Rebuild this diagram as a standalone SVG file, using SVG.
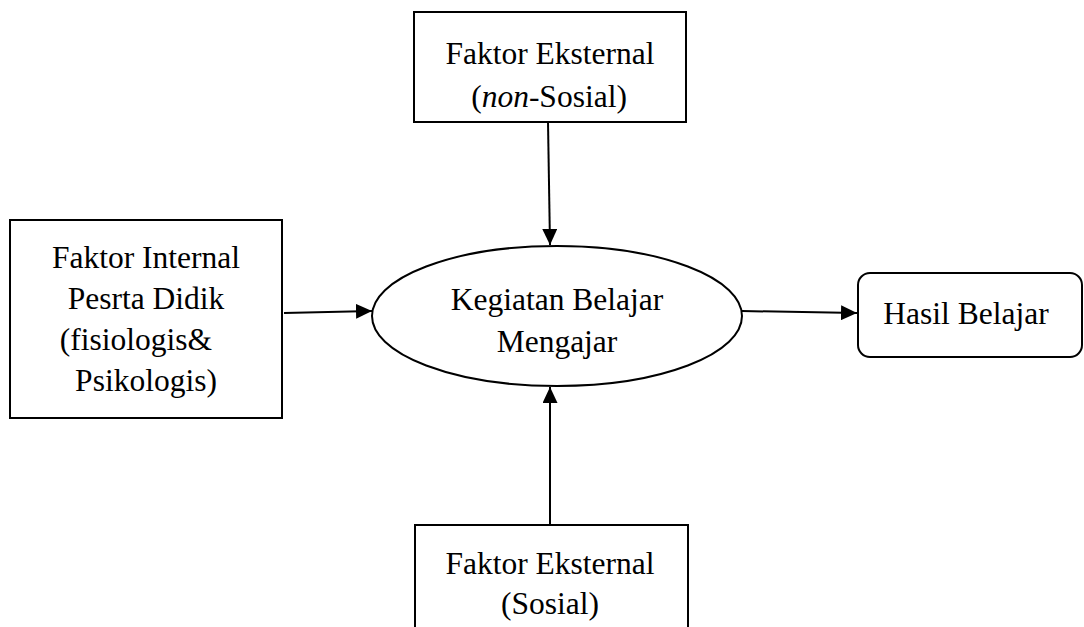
<svg xmlns="http://www.w3.org/2000/svg" width="1084" height="627" viewBox="0 0 1084 627">
<style>
.box{fill:#fff;stroke:#000;stroke-width:2}
.t{font-family:'Liberation Serif','Times New Roman','DejaVu Serif',serif;font-size:31.5px;fill:#000;text-anchor:middle}
.c{stroke:#000;stroke-width:2;fill:none;marker-end:url(#ah)}
</style>
<defs>
<marker id="ah" viewBox="0 0 16 15" refX="16" refY="7.5" markerWidth="16" markerHeight="15" markerUnits="userSpaceOnUse" orient="auto">
<path d="M0,0 L16,7.5 L0,15 z" fill="#000"/>
</marker>
</defs>
<rect width="1084" height="627" fill="#fff"/>
<g id="connectors">
<path class="c" d="M548,122 L550,245"/>
<path class="c" d="M284,313 L372,311"/>
<path class="c" d="M550,525 L550,387"/>
<path class="c" d="M742,311 L857,313"/>
</g>
<g id="node-top">
<rect class="box" x="414" y="12" width="272" height="110"/>
<text class="t" x="550" y="64">Faktor Eksternal</text>
<text class="t" x="549" y="107">(<tspan font-style="italic">non</tspan>-Sosial)</text>
</g>
<g id="node-left">
<rect class="box" x="10" y="220" width="272" height="198"/>
<text class="t" x="146" y="268">Faktor Internal</text>
<text class="t" x="146" y="309">Pesrta Didik</text>
<text class="t" x="136" y="350">(fisiologis&amp;</text>
<text class="t" x="146" y="391">Psikologis)</text>
</g>
<g id="node-center">
<ellipse class="box" cx="557" cy="316" rx="185" ry="70"/>
<text class="t" x="557" y="310">Kegiatan Belajar</text>
<text class="t" x="557" y="352">Mengajar</text>
</g>
<g id="node-right">
<rect class="box" x="858" y="273" width="224" height="84" rx="12" ry="12"/>
<text class="t" x="966" y="324">Hasil Belajar</text>
</g>
<g id="node-bottom">
<rect class="box" x="415" y="525" width="273" height="120"/>
<text class="t" x="550" y="574">Faktor Eksternal</text>
<text class="t" x="550" y="614">(Sosial)</text>
</g>
</svg>
